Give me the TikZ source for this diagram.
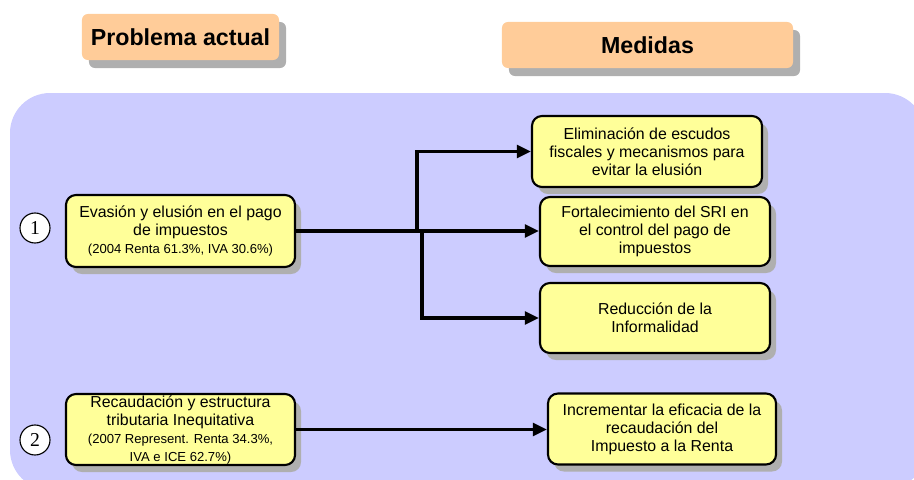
\documentclass[tikz,border=0pt]{standalone}
\usepackage{fontspec}
\setmainfont{Liberation Sans}
\newfontfamily\numfont{Liberation Serif}
\usetikzlibrary{arrows.meta,shadows}
\definecolor{regionblue}{HTML}{CCCCFF}
\definecolor{headpeach}{HTML}{FFCC99}
\definecolor{boxyellow}{HTML}{FFFF99}
\definecolor{shadowgray}{HTML}{AFAFAF}
\newcommand{\smalltxt}{\fontsize{9.3}{12.5}\selectfont}
\tikzset{
  header/.style={fill=headpeach, rounded corners=0.15cm, inner sep=0pt,
    font=\fontsize{16.5}{19}\selectfont\bfseries,
    drop shadow={shadow xshift=0.175cm, shadow yshift=-0.2cm, fill=shadowgray, opacity=1}},
  causebox/.style={draw, line width=1.5pt, fill=boxyellow, rounded corners=0.25cm,
    inner sep=0pt, align=center, font=\fontsize{11.3}{12.8}\selectfont,
    drop shadow={shadow xshift=0.15cm, shadow yshift=-0.175cm, fill=shadowgray, opacity=1}},
  numcircle/.style={circle, draw, line width=0.8pt, fill=white, minimum size=0.75cm,
    inner sep=0pt, font=\numfont\fontsize{14}{14}\selectfont},
  link/.style={line width=2.5pt, -{Triangle[length=10pt,width=9pt]}}
}
\begin{document}
\begin{tikzpicture}[x=0.025cm, y=-0.025cm]
  \useasboundingbox (0,0) rectangle (914,480);
  \clip (0,0) rectangle (914,480);
  \fill[regionblue, rounded corners=1cm] (10,93) rectangle (925,490);

  \node[header, minimum width=4.925cm, minimum height=1.15cm] (hprob) at (180.5,37) {Problema actual};
  \node[header, minimum width=7.275cm, minimum height=1.15cm] (hmed) at (647.5,45) {Medidas};

  \node[numcircle] (num1) at (35,228) {1};
  \node[numcircle] (num2) at (35,440) {2};

  \node[causebox, minimum width=5.725cm, minimum height=1.8cm] (evasion) at (180.5,231)
    {Evasión y elusión en el pago\\ de impuestos\\ \smalltxt (2004 Renta 61.3\%, IVA 30.6\%)};
  \node[causebox, minimum width=5.725cm, minimum height=1.775cm] (recaud) at (180.5,429.5)
    {Recaudación y estructura\\ tributaria Inequitativa\\ \smalltxt (2007 Represent. Renta 34.3\%,\\ \smalltxt IVA e ICE 62.7\%)};

  \node[causebox, minimum width=5.75cm, minimum height=1.775cm] (escudos) at (647,151.5)
    {Eliminación de escudos\\ fiscales y mecanismos para\\ evitar la elusión};
  \node[causebox, minimum width=5.75cm, minimum height=1.725cm] (sri) at (655,231.5)
    {Fortalecimiento del SRI en\\ el control del pago de\\ impuestos};
  \node[causebox, minimum width=5.75cm, minimum height=1.75cm] (informal) at (655,318)
    {Reducción de la\\ Informalidad};
  \node[causebox, minimum width=5.7cm, minimum height=1.775cm] (eficacia) at (662,429)
    {Incrementar la eficacia de la\\ recaudación del\\ Impuesto a la Renta};

  % branches
  \coordinate (up) at (417,231);
  \coordinate (down) at (422,231);
  \draw[link] (evasion.east) -- (evasion.east -| sri.west);
  \draw[link] (up) |- (escudos.west);
  \draw[link] (down) |- (informal.west);
  \draw[link] (recaud.east) -- (recaud.east -| eficacia.west);
\end{tikzpicture}
\end{document}
